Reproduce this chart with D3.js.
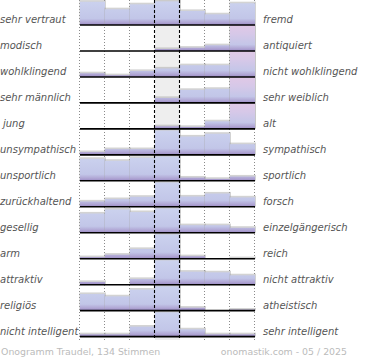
<!DOCTYPE html>
<html><head><meta charset="utf-8">
<script src="https://cdn.jsdelivr.net/npm/d3@7/dist/d3.min.js"></script>
<style>html,body{margin:0;padding:0;background:#fff}svg{display:block}</style>
</head><body>
<script>
const leftLabels = ["sehr vertraut","modisch","wohlklingend","sehr männlich","jung","unsympathisch","unsportlich","zurückhaltend","gesellig","arm","attraktiv","religiös","nicht intelligent"];
const rightLabels = ["fremd","antiquiert","nicht wohlklingend","sehr weiblich","alt","sympathisch","sportlich","forsch","einzelgängerisch","reich","nicht attraktiv","atheistisch","sehr intelligent"];
const categories = [1,2,3,4,5,6,7];
// share of votes (%) per scale step, left to right
const shares = [
  [17.9,12.1,15.9,18.2,10.8, 8.2,16.7],
  [ 0.0, 0.0, 0.0, 1.5, 2.5, 4.4,91.6],
  [ 2.8, 1.3, 4.6, 6.5, 9.0, 9.0,66.8],
  [ 0.0, 0.0, 0.0, 3.8,10.0,10.8,75.4],
  [ 0.0, 0.0, 0.0, 2.0, 1.5, 5.8,90.7],
  [ 2.1, 4.4, 4.4,50.6,14.1,16.2, 8.2],
  [16.9,15.4,17.7,42.7, 2.5, 1.5, 3.3],
  [ 4.1, 5.9, 7.7,57.0, 7.9,10.2, 7.2],
  [14.8,17.9,15.9,36.0, 5.8, 5.8, 3.8],
  [ 1.2, 3.1, 7.5,85.9, 1.9, 0.0, 0.4],
  [ 2.1, 0.0, 4.4,66.8,10.0, 9.5, 7.2],
  [12.8,11.0,16.2,56.9, 2.3, 0.0, 0.8],
  [ 1.8, 1.8, 7.7,79.5, 5.6, 1.8, 1.8]
];
const footerLeft = "Onogramm Traudel, 134 Stimmen";
const footerRight = "onomastik.com - 05 / 2025";

const W = 370, H = 360;
const svg = d3.select("body").append("svg").attr("width", W).attr("height", H);
const defs = svg.append("defs");

const x = d3.scaleBand().domain(categories).range([80, 255]);
const y = d3.scaleBand().domain(d3.range(leftLabels.length)).range([-0.97, 336.64]);
const hScale = d3.scaleLinear().domain([0, 100]).range([0, 130]);
const midCat = 4;
const midCap = 24.3;
const gridTop = 0, gridBottom = 340;
const base = i => y(i) + y.bandwidth();

// middle column background
svg.append("rect").attr("x", x(midCat)).attr("y", gridTop)
  .attr("width", x.bandwidth()).attr("height", gridBottom - gridTop).attr("fill", "#eeeeee");

// dotted grid lines (behind bars)
const edges = categories.map(c => x(c)).concat([x(7) + x.bandwidth()]);
const dotted = edges.filter(e => e !== x(midCat) && e !== x(midCat) + x.bandwidth());
svg.selectAll("line.dot").data(dotted).enter().append("line")
  .attr("x1", d => d - 0.5).attr("x2", d => d - 0.5)
  .attr("y1", gridTop).attr("y2", gridBottom)
  .attr("stroke", "#8a8a8a").attr("stroke-width", 1).attr("stroke-dasharray", "1,2");

// gradients per row
leftLabels.forEach((_, i) => {
  const g = defs.append("linearGradient").attr("id", "g" + i)
    .attr("gradientUnits", "userSpaceOnUse").attr("x1", 0).attr("x2", 0)
    .attr("y1", y(i)).attr("y2", base(i));
  [[0, "#ccd3ef"], [0.75, "#c2c6e8"], [0.9, "#b0a6d4"], [1, "#9b8bc5"]]
    .forEach(s => g.append("stop").attr("offset", s[0]).attr("stop-color", s[1]));
  const p = defs.append("linearGradient").attr("id", "p" + i)
    .attr("gradientUnits", "userSpaceOnUse").attr("x1", 0).attr("x2", 0)
    .attr("y1", y(i)).attr("y2", base(i));
  [[0, "#e1c8e6"], [0.35, "#d6c8e8"], [0.75, "#c4c6e8"], [0.9, "#b0a6d4"], [1, "#9b8bc5"]]
    .forEach(s => p.append("stop").attr("offset", s[0]).attr("stop-color", s[1]));
});

// bars
leftLabels.forEach((_, i) => {
  const row = svg.append("g");
  shares[i].forEach((v, j) => {
    const c = categories[j];
    let hh = hScale(v);
    let over = false;
    if (c === midCat) hh = Math.min(hh, midCap);
    else if (hh > y.bandwidth()) { hh = y.bandwidth(); over = true; }
    if (hh <= 0) return;
    const x0 = x(c), top = base(i) - hh;
    if (!over) {
      row.append("rect").attr("x", x0 - 0.6).attr("y", top - 1.6)
        .attr("width", x.bandwidth() + 1.6).attr("height", hh + 1.6)
        .attr("fill", "#a8a8a8").attr("opacity", 0.5);
    } else {
      row.append("rect").attr("x", x0 - 0.6).attr("y", top)
        .attr("width", x.bandwidth() + 1.6).attr("height", hh)
        .attr("fill", "#a0a0a0").attr("opacity", 0.6);
    }
    row.append("rect").attr("x", x0).attr("y", top)
      .attr("width", x.bandwidth()).attr("height", hh)
      .attr("fill", `url(#${over ? "p" : "g"}${i})`);
  });
});

// dashed lines around middle column (over bars)
svg.selectAll("line.dash").data([x(midCat), x(midCat) + x.bandwidth()]).enter().append("line")
  .attr("x1", d => d - 0.5).attr("x2", d => d - 0.5)
  .attr("y1", gridTop).attr("y2", gridBottom)
  .attr("stroke", "#000").attr("stroke-width", 1.1).attr("stroke-dasharray", "3,2");

// baselines
svg.selectAll("line.base").data(leftLabels).enter().append("line")
  .attr("x1", 80).attr("x2", 255)
  .attr("y1", (d, i) => base(i)).attr("y2", (d, i) => base(i))
  .attr("stroke", "#000").attr("stroke-width", 1.6);

// labels
const lab = svg.append("g").attr("font-family", "DejaVu Sans").attr("font-style", "italic")
  .attr("font-size", 10).attr("fill", "#555");
lab.selectAll("text.l").data(leftLabels).enter().append("text")
  .attr("x", d => d === "jung" ? 3 : 0).attr("y", (d, i) => base(i) - 1.7).text(d => d);
lab.selectAll("text.r").data(rightLabels).enter().append("text")
  .attr("x", 263).attr("y", (d, i) => base(i) - 1.7).text(d => d);

// footer
const ft = svg.append("g").attr("font-family", "DejaVu Sans").attr("font-size", 9.4).attr("fill", "#bbbbbb");
ft.append("text").attr("x", 1).attr("y", 355).text(footerLeft);
ft.append("text").attr("x", 347).attr("y", 355).attr("text-anchor", "end").text(footerRight);
</script>
</body></html>
